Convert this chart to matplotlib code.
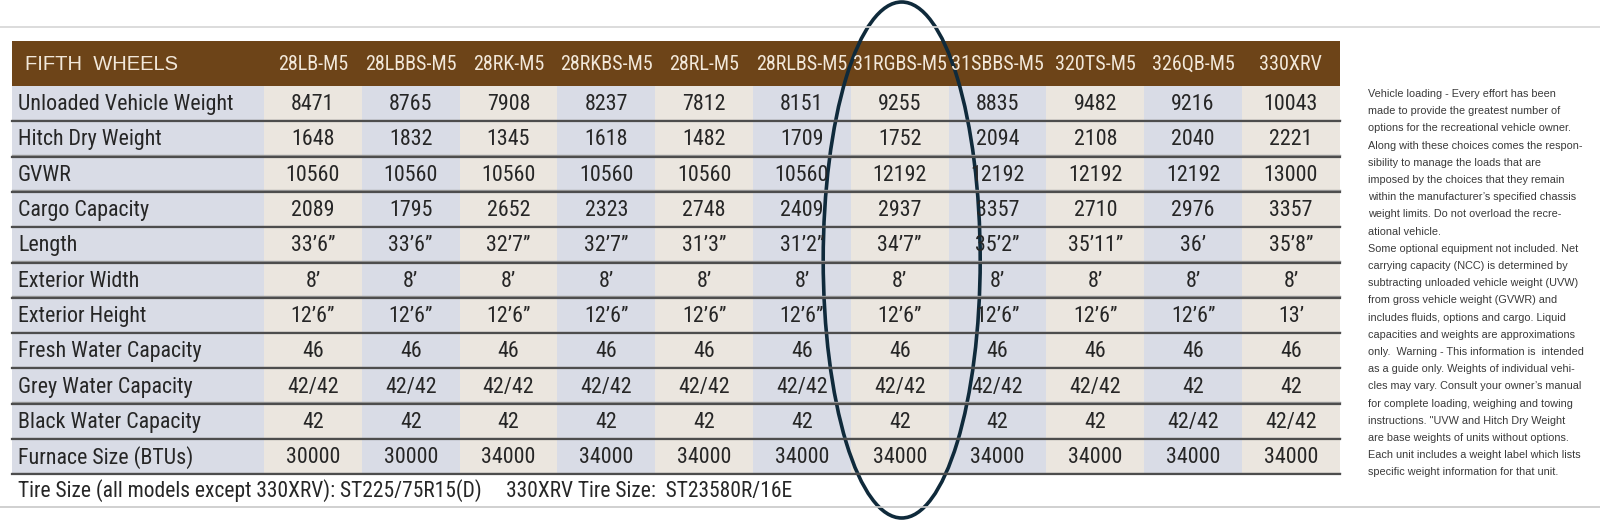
import matplotlib
matplotlib.use("Agg")
import matplotlib.pyplot as plt
from matplotlib import font_manager
from matplotlib.patches import Rectangle, Ellipse

# ---- data ----
models = ["28LB-M5", "28LBBS-M5", "28RK-M5", "28RKBS-M5", "28RL-M5", "28RLBS-M5",
          "31RGBS-M5", "31SBBS-M5", "320TS-M5", "326QB-M5", "330XRV"]
row_labels = ["Unloaded Vehicle Weight", "Hitch Dry Weight", "GVWR", "Cargo Capacity",
              "Length", "Exterior Width", "Exterior Height", "Fresh Water Capacity",
              "Grey Water Capacity", "Black Water Capacity", "Furnace Size (BTUs)"]

uvw = [8471, 8765, 7908, 8237, 7812, 8151, 9255, 8835, 9482, 9216, 10043]
hitch = [1648, 1832, 1345, 1618, 1482, 1709, 1752, 2094, 2108, 2040, 2221]
gvwr = [10560, 10560, 10560, 10560, 10560, 10560, 12192, 12192, 12192, 12192, 13000]
cargo = [2089, 1795, 2652, 2323, 2748, 2409, 2937, 3357, 2710, 2976, 3357]
length = ["33’6”", "33’6”", "32’7”", "32’7”", "31’3”", "31’2”", "34’7”", "35’2”",
          "35’11”", "36’", "35’8”"]
ext_width = ["8’"] * 11
ext_height = ["12’6”"] * 10 + ["13’"]
fresh = [46] * 11
grey = ["42/42"] * 9 + ["42", "42"]
black = ["42"] * 9 + ["42/42", "42/42"]
furnace = [30000, 30000, 34000, 34000, 34000, 34000, 34000, 34000, 34000, 34000, 34000]

rows = [uvw, hitch, gvwr, cargo, length, ext_width, ext_height, fresh, grey, black, furnace]

highlight_col = "31RGBS-M5"

footer = "Tire Size (all models except 330XRV): ST225/75R15(D)     330XRV Tire Size:  ST23580R/16E"
side_note = [
    "Vehicle loading - Every effort has been",
    "made to provide the greatest number of",
    "options for the recreational vehicle owner.",
    "Along with these choices comes the respon-",
    "sibility to manage the loads that are",
    "imposed by the choices that they remain",
    "within the manufacturer’s specified chassis",
    "weight limits. Do not overload the recre-",
    "ational vehicle.",
    "Some optional equipment not included. Net",
    "carrying capacity (NCC) is determined by",
    "subtracting unloaded vehicle weight (UVW)",
    "from gross vehicle weight (GVWR) and",
    "includes fluids, options and cargo. Liquid",
    "capacities and weights are approximations",
    "only.  Warning - This information is  intended",
    "as a guide only. Weights of individual vehi-",
    "cles may vary. Consult your owner’s manual",
    "for complete loading, weighing and towing",
    "instructions. \"UVW and Hitch Dry Weight",
    "are base weights of units without options.",
    "Each unit includes a weight label which lists",
    "specific weight information for that unit.",
]

# ---- layout ----
W, H = 1600, 520
left, label_w, col_w = 12, 252, 97.8
head_top, head_h, row_h = 41, 45, 35.3

brown = "#6d4418"
head_txt = "#f2e8da"
blue = "#d9dce6"
beige = "#ebe6df"
ink = "#262626"

# pick a narrow face if one is there, else plain Roboto a bit smaller
installed = {f.name for f in font_manager.fontManager.ttflist}
if "Roboto Condensed" in installed:
    narrow = ["Roboto Condensed", "DejaVu Sans"]
    fs_cell, fs_head, fs_foot = 15.8, 14.5, 15.5
else:
    narrow = ["Roboto", "DejaVu Sans"]
    fs_cell, fs_head, fs_foot = 14, 12.3, 14

fig = plt.figure(figsize=(16, 5.2), dpi=100)
ax = fig.add_axes([0, 0, 1, 1])
ax.set_xlim(0, W)
ax.set_ylim(H, 0)
ax.axis("off")

table_right = left + label_w + col_w * len(models)
body_top = head_top + head_h
body_bottom = body_top + row_h * len(rows)

# thin page rules
ax.plot([0, W], [27, 27], color="#d6d6d6", lw=1.2)
ax.plot([0, W], [507, 507], color="#c8c8c8", lw=1.2)

# header band
ax.add_patch(Rectangle((left, head_top), table_right - left, head_h, color=brown, lw=0))
ax.text(left + 13, head_top + head_h / 2 + 1, "FIFTH  WHEELS", color=head_txt,
        fontsize=14.5, family=["Liberation Sans", "DejaVu Sans"], va="center", ha="left")
for j, m in enumerate(models):
    cx = left + label_w + col_w * (j + 0.5)
    ax.text(cx, head_top + head_h / 2 + 1, m, color=head_txt, fontsize=fs_head,
            family=narrow, va="center", ha="center")

# body columns
ax.add_patch(Rectangle((left, body_top), label_w, body_bottom - body_top, color=blue, lw=0))
for j in range(len(models)):
    x0 = left + label_w + col_w * j
    ax.add_patch(Rectangle((x0, body_top), col_w, body_bottom - body_top,
                           color=beige if j % 2 == 0 else blue, lw=0))

# rows
for i, (lab, vals) in enumerate(zip(row_labels, rows)):
    cy = body_top + row_h * (i + 0.5)
    ax.text(left + 6, cy + 1, lab, color=ink, fontsize=fs_cell, family=narrow,
            va="center", ha="left")
    for j, v in enumerate(vals):
        cx = left + label_w + col_w * (j + 0.5)
        ax.text(cx, cy + 1, str(v), color=ink, fontsize=fs_cell, family=narrow,
                va="center", ha="center")
    yb = body_top + row_h * (i + 1)
    ax.plot([left, table_right], [yb - 1.5, yb - 1.5], color="#9a9a9a", lw=1.0)
    ax.plot([left, table_right], [yb, yb], color="#4d4d4d", lw=1.6)

# footer
ax.text(18, 491, footer, color=ink, fontsize=fs_foot, family=narrow, va="center", ha="left")

# side note
for k, line in enumerate(side_note):
    ax.text(1368, 94 + k * 17.2, line, color="#3a3a3a", fontsize=7.8,
            family=["Liberation Sans", "DejaVu Sans"], va="center", ha="left")

# highlight ellipse around one model column
hx = left + label_w + col_w * (models.index(highlight_col) + 0.5)
ax.add_patch(Ellipse((hx + 2, 260), 157, 516, fill=False, ec="#0f2a3b", lw=2.6))

fig.savefig("out.png", dpi=100, facecolor="white")
